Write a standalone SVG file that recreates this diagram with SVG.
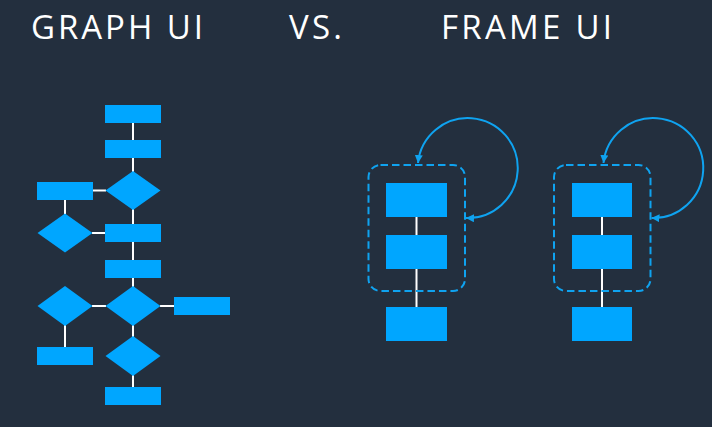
<svg xmlns="http://www.w3.org/2000/svg" width="712" height="427" viewBox="0 0 712 427">
<style>
.title{font-family:"Open Sans","Liberation Sans",sans-serif;font-size:33px;fill:#ffffff;letter-spacing:1px}
.n{fill:#00A6FF}
.w{stroke:#ffffff;stroke-width:2;fill:none}
.frame{fill:none;stroke:#0FA3F0;stroke-width:2;stroke-dasharray:7.5 4}
.loop{fill:none;stroke:#0FA3F0;stroke-width:2}
</style>
<defs>
<marker id="ah" markerUnits="userSpaceOnUse" markerWidth="10" markerHeight="10" refX="8" refY="4" orient="auto-start-reverse">
<path d="M0,0 L8,4 L0,8 z" fill="#0FA3F0"/>
</marker>
</defs>
<rect width="712" height="427" fill="#232F3E"/>
<g id="titles">
<text class="title" x="31" y="39" textLength="173" lengthAdjust="spacing">GRAPH UI</text>
<text class="title" x="289" y="39" textLength="54" lengthAdjust="spacing">VS.</text>
<text class="title" x="441" y="39" textLength="172" lengthAdjust="spacing">FRAME UI</text>
</g>
<g id="connectors">
<line class="w" x1="133" y1="122" x2="133" y2="387"/>
<line class="w" x1="93" y1="190.5" x2="106" y2="190.5"/>
<line class="w" x1="65" y1="200" x2="65" y2="214"/>
<line class="w" x1="92" y1="233" x2="105" y2="233"/>
<line class="w" x1="92" y1="306" x2="106" y2="306"/>
<line class="w" x1="160" y1="306" x2="174" y2="306"/>
<line class="w" x1="65" y1="325" x2="65" y2="347"/>
<line class="w" x1="416.5" y1="217" x2="416.5" y2="307"/>
<line class="w" x1="602" y1="217" x2="602" y2="307"/>
<path class="loop" d="M418,163 A50,50 0 1 1 466,218" marker-start="url(#ah)" marker-end="url(#ah)"/>
<path class="loop" d="M603.5,163 A50,50 0 1 1 651.5,218" marker-start="url(#ah)" marker-end="url(#ah)"/>
</g>
<g id="graph-r1"><rect class="n" x="105" y="105" width="56" height="18"/></g>
<g id="graph-r2"><rect class="n" x="105" y="140" width="56" height="18"/></g>
<g id="graph-d1"><polygon class="n" points="133,171 160.5,190.5 133,210 105.5,190.5"/></g>
<g id="graph-rl1"><rect class="n" x="37" y="182" width="56" height="18"/></g>
<g id="graph-dl1"><polygon class="n" points="65,213.5 92.5,233 65,252.5 37.5,233"/></g>
<g id="graph-r3"><rect class="n" x="105" y="224" width="56" height="18"/></g>
<g id="graph-r4"><rect class="n" x="105" y="260" width="56" height="18"/></g>
<g id="graph-d2"><polygon class="n" points="133,286 160.5,306 133,326 105.5,306"/></g>
<g id="graph-dl2"><polygon class="n" points="65,286 92.5,306 65,326 37.5,306"/></g>
<g id="graph-rr"><rect class="n" x="174" y="297" width="56" height="18"/></g>
<g id="graph-rl2"><rect class="n" x="37" y="347" width="56" height="18"/></g>
<g id="graph-d3"><polygon class="n" points="133,336 160.5,356 133,376 105.5,356"/></g>
<g id="graph-r5"><rect class="n" x="105" y="387" width="56" height="18"/></g>
<g id="frame1">
<rect class="frame" x="368.5" y="165" width="96.5" height="126" rx="12"/>
<rect class="n" x="386" y="183" width="61" height="34"/>
<rect class="n" x="386" y="235" width="61" height="34"/>
</g>
<g id="frame1-out"><rect class="n" x="386" y="307" width="61" height="34"/></g>
<g id="frame2">
<rect class="frame" x="554" y="165" width="96.5" height="126" rx="12"/>
<rect class="n" x="572" y="183" width="60" height="34"/>
<rect class="n" x="572" y="235" width="60" height="34"/>
</g>
<g id="frame2-out"><rect class="n" x="572" y="307" width="60" height="34"/></g>
</svg>
